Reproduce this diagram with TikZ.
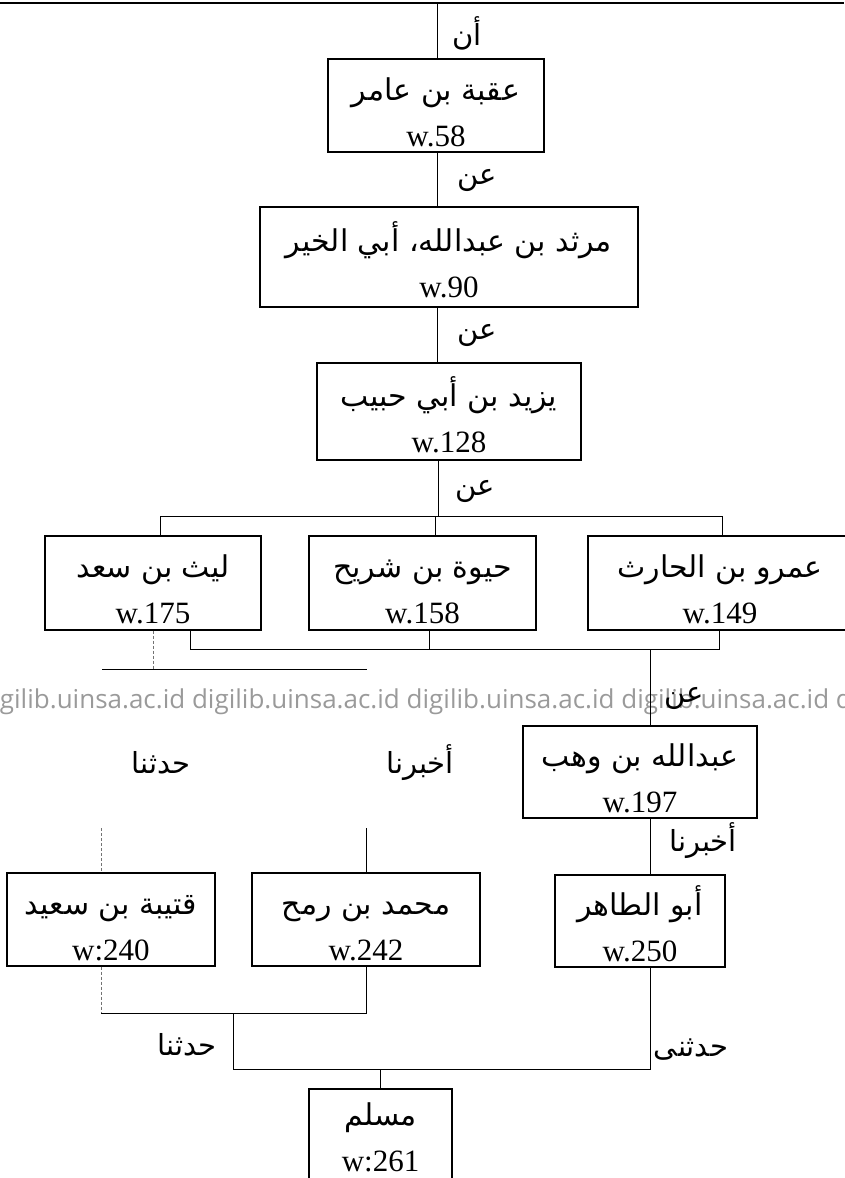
\documentclass[tikz,border=0pt]{standalone}
\usepackage{fontspec}
\setmainfont{Liberation Serif}
\newfontfamily\arabicfont[Script=Arabic]{DejaVu Sans}
\newfontfamily\wmfont{Open Sans}
\TeXXeTstate=1
\newcommand{\artx}[1]{{\fontsize{30}{46}\selectfont\arabicfont\rule{0pt}{36pt}\beginR #1\endR}}
\definecolor{wmgray}{HTML}{9A9A9A}

\tikzset{
  box/.style={draw, line width=1.1pt, align=center, inner sep=0pt,
    font=\fontsize{31}{46}\selectfont},
  rel/.style={font=\fontsize{29}{34}\selectfont\arabicfont, inner sep=0pt},
  faint/.style={densely dashed, line width=0.6pt, black!55}
}

\begin{document}
\begin{tikzpicture}[x=1pt,y=-1pt,line width=0.8pt]
  \useasboundingbox (0,0) rectangle (844,1178);

  % watermark
  \node[anchor=west, text=wmgray, inner sep=0pt, font=\fontsize{26}{30}\selectfont\wmfont] (wm) at (-23,702)
    {digilib.uinsa.ac.id digilib.uinsa.ac.id digilib.uinsa.ac.id digilib.uinsa.ac.id digilib.uinsa.ac.id digilib};

  % narrators
  \node[box, minimum width=216pt, minimum height=93pt]  (uqba)     at (436,105.5) {\artx{عقبة بن عامر}\\w.58};
  \node[box, minimum width=378pt, minimum height=100pt] (marthad)  at (449,257)   {\artx{مرثد بن عبدالله، أبي الخير}\\w.90};
  \node[box, minimum width=264pt, minimum height=97pt]  (yazid)    at (449,411.5) {\artx{يزيد بن أبي حبيب}\\w.128};
  \node[box, minimum width=216pt, minimum height=94pt]  (laith)    at (153,583)   {\artx{ليث بن سعد}\\w.175};
  \node[box, minimum width=227pt, minimum height=94pt]  (haywa)    at (422.5,583) {\artx{حيوة بن شريح}\\w.158};
  \node[box, minimum width=264pt, minimum height=94pt]  (amr)      at (720,583)   {\artx{عمرو بن الحارث}\\w.149};
  \node[box, minimum width=234pt, minimum height=92pt]  (wahb)     at (640,772)   {\artx{عبدالله بن وهب}\\w.197};
  \node[box, minimum width=208pt, minimum height=93pt]  (qutayba)  at (111,919.5) {\artx{قتيبة بن سعيد}\\w:240};
  \node[box, minimum width=228pt, minimum height=93pt]  (muhammad) at (366,919.5) {\artx{محمد بن رمح}\\w.242};
  \node[box, minimum width=170pt, minimum height=92pt]  (tahir)    at (640,921)   {\artx{أبو الطاهر}\\w.250};
  \node[box, minimum width=143pt, minimum height=92pt]  (muslim)   at (380.5,1135) {\artx{مسلم}\\w:261\rule[-10pt]{0pt}{10pt}};

  % transmission words
  \node[rel] (an)    at (467,33)   {\beginR أن\endR};
  \node[rel] (an1)   at (477,180)  {\beginR عن\endR};
  \node[rel] (an2)   at (477,335)  {\beginR عن\endR};
  \node[rel] (an3)   at (475,491)  {\beginR عن\endR};
  \node[rel] (an4)   at (684,698)  {\beginR عن\endR};
  \node[rel] (akh1)  at (703,841)  {\beginR أخبرنا\endR};
  \node[rel] (had1)  at (161,763)  {\beginR حدثنا\endR};
  \node[rel] (akh2)  at (420,763)  {\beginR أخبرنا\endR};
  \node[rel] (had2)  at (187,1045) {\beginR حدثنا\endR};
  \node[rel] (had3)  at (691,1050) {\beginR حدثنى\endR};

  % junction points
  \coordinate (tl) at (0,3);
  \coordinate (tr) at (844,3);
  \coordinate (sp) at (437,3);
  \coordinate (j1)  at (438,516);
  \coordinate (j1l) at (160,516);
  \coordinate (j1m) at (435,516);
  \coordinate (j1r) at (722,516);
  \coordinate (j2)  at (650,649);
  \coordinate (j2l) at (190,649);
  \coordinate (j2m) at (429,649);
  \coordinate (j2r) at (719,649);
  \coordinate (s1)  at (153,669);
  \coordinate (s1l) at (102,669);
  \coordinate (s1r) at (367,669);
  \coordinate (f1)  at (101,828);
  \coordinate (f2)  at (366,828);
  \coordinate (j3l) at (101,1013);
  \coordinate (j3r) at (366,1013);
  \coordinate (j3)  at (233,1013);
  \coordinate (j4l) at (233,1069);
  \coordinate (j4r) at (650,1069);
  \coordinate (j4)  at (380,1069);

  % connectors
  \draw[line width=1.2pt] (tl) -- (tr);
  \draw (sp) -- (sp |- uqba.north);
  \draw (sp |- uqba.south) -- (sp |- marthad.north);
  \draw (sp |- marthad.south) -- (sp |- yazid.north);
  \draw (j1 |- yazid.south) -- (j1);
  \draw (j1l |- laith.north) -- (j1l) -- (j1r) -- (j1r |- amr.north);
  \draw (j1m) -- (j1m |- haywa.north);
  \draw (j2l |- laith.south) -- (j2l) -- (j2r) -- (j2r |- amr.south);
  \draw (j2m |- haywa.south) -- (j2m);
  \draw (j2) -- (j2 |- wahb.north);
  \draw[faint] (s1 |- laith.south) -- (s1);
  \draw (s1l) -- (s1r);
  \draw (j2 |- wahb.south) -- (j2 |- tahir.north);
  \draw[faint] (f1) -- (f1 |- qutayba.north);
  \draw (f2) -- (f2 |- muhammad.north);
  \draw[faint] (j3l |- qutayba.south) -- (j3l);
  \draw (j3l) -- (j3r) -- (j3r |- muhammad.south);
  \draw (j3) -- (j4l) -- (j4r) -- (j4r |- tahir.south);
  \draw (j4) -- (j4 |- muslim.north);
\end{tikzpicture}
\end{document}
